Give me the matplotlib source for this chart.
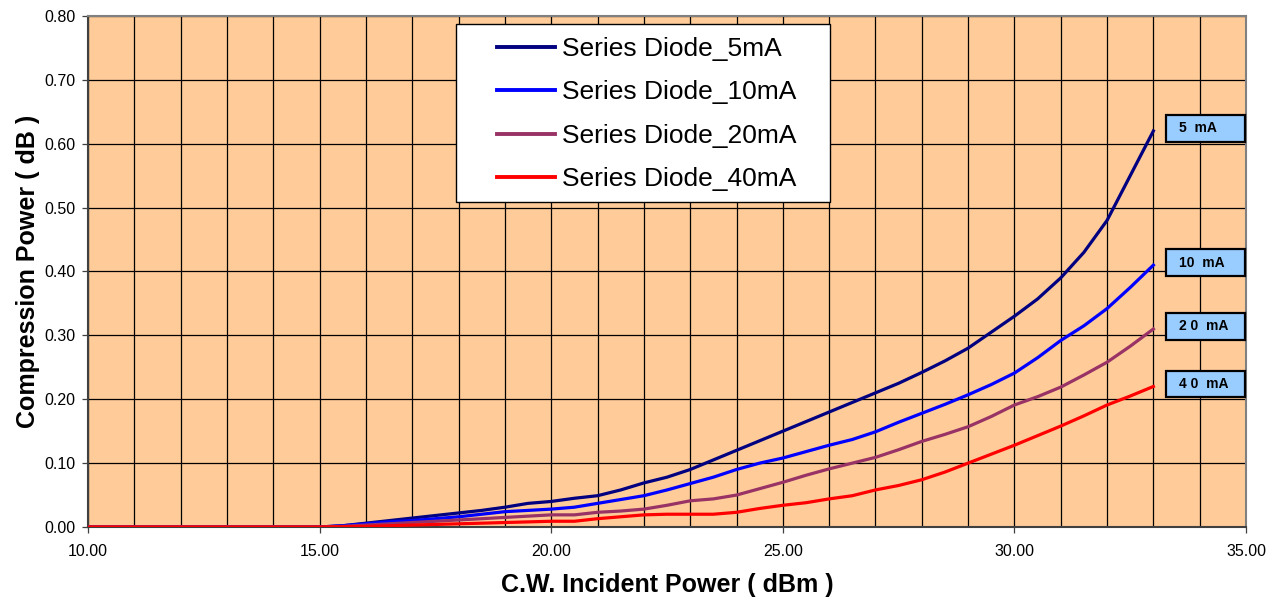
import matplotlib
matplotlib.use('Agg')
import matplotlib.pyplot as plt
from matplotlib.ticker import MultipleLocator, FormatStrFormatter
from matplotlib.patches import Rectangle

plt.rcParams['font.family'] = ['Liberation Sans', 'DejaVu Sans']

# incident power steps (dBm)
power = [10.0, 10.5, 11.0, 11.5, 12.0, 12.5, 13.0, 13.5, 14.0, 14.5, 15.0,
         15.5, 16.0, 16.5, 17.0, 17.5, 18.0, 18.5, 19.0, 19.5, 20.0, 20.5,
         21.0, 21.5, 22.0, 22.5, 23.0, 23.5, 24.0, 24.5, 25.0, 25.5, 26.0,
         26.5, 27.0, 27.5, 28.0, 28.5, 29.0, 29.5, 30.0, 30.5, 31.0, 31.5,
         32.0, 32.5, 33.0]

zeros = [0.0] * 11

comp_5ma = zeros + [0.002, 0.006, 0.010, 0.014, 0.018, 0.022, 0.026, 0.031, 0.037, 0.040,
                    0.045, 0.049, 0.058, 0.069, 0.078, 0.090, 0.105, 0.120, 0.135, 0.150,
                    0.165, 0.180, 0.195, 0.210, 0.225, 0.242, 0.260, 0.280, 0.305, 0.330,
                    0.357, 0.390, 0.430, 0.480, 0.550, 0.620]
comp_10ma = zeros + [0.002, 0.005, 0.008, 0.010, 0.013, 0.016, 0.020, 0.024, 0.026, 0.028,
                     0.031, 0.037, 0.043, 0.049, 0.058, 0.068, 0.078, 0.090, 0.100, 0.108,
                     0.118, 0.128, 0.137, 0.149, 0.164, 0.178, 0.192, 0.207, 0.223, 0.241,
                     0.265, 0.292, 0.315, 0.342, 0.375, 0.410]
comp_20ma = zeros + [0.001, 0.003, 0.005, 0.007, 0.009, 0.011, 0.013, 0.015, 0.017, 0.019,
                     0.019, 0.023, 0.025, 0.028, 0.034, 0.041, 0.044, 0.050, 0.060, 0.070,
                     0.081, 0.091, 0.100, 0.109, 0.121, 0.134, 0.145, 0.157, 0.173, 0.191,
                     0.204, 0.219, 0.238, 0.258, 0.283, 0.310]
comp_40ma = zeros + [0.0005, 0.001, 0.002, 0.003, 0.004, 0.005, 0.006, 0.007, 0.008, 0.009,
                     0.009, 0.013, 0.016, 0.019, 0.020, 0.020, 0.020, 0.023, 0.029, 0.034,
                     0.038, 0.044, 0.049, 0.058, 0.065, 0.074, 0.086, 0.100, 0.114, 0.128,
                     0.143, 0.158, 0.174, 0.191, 0.205, 0.220]

series = [comp_5ma, comp_10ma, comp_20ma, comp_40ma]
names = ["Series Diode_5mA", "Series Diode_10mA", "Series Diode_20mA", "Series Diode_40mA"]
tags = ["5  mA", "10  mA", "2 0  mA", "4 0  mA"]
colors = ["#000080", "#0000FF", "#993366", "#FF0000"]

fig = plt.figure(figsize=(12.76, 5.99), dpi=100)
ax = fig.add_axes([0.069, 0.1202, 0.9075, 0.8531])
ax.set_facecolor("#FFCC99")

for y, lab, c in zip(series, names, colors):
    ax.plot(power, y, color=c, lw=2.3, label=lab, zorder=3)

ax.set_xlim(10, 35)
ax.set_ylim(0, 0.8)
ax.xaxis.set_major_locator(MultipleLocator(5))
ax.xaxis.set_minor_locator(MultipleLocator(1))
ax.yaxis.set_major_locator(MultipleLocator(0.1))
ax.xaxis.set_major_formatter(FormatStrFormatter("%.2f"))
ax.yaxis.set_major_formatter(FormatStrFormatter("%.2f"))
ax.grid(which="both", color="black", lw=0.9, zorder=1)
ax.set_axisbelow(True)
ax.tick_params(which="major", length=4, width=0.9, color="#404040", labelsize=11.5)
ax.tick_params(which="minor", length=0)
ax.tick_params(axis="x", pad=8)
ax.tick_params(axis="y", pad=5)
for s in ax.spines.values():
    s.set_color("#808080")
    s.set_linewidth(1.5)
ax.spines["left"].set_color("#404040")
ax.spines["bottom"].set_color("#404040")

ax.set_xlabel("C.W. Incident Power ( dBm )", fontsize=18, fontweight="bold", labelpad=10)
ax.set_ylabel("Compression Power ( dB )", fontsize=18, fontweight="bold", labelpad=3)

# end-of-line labels
for y, t in zip(series, tags):
    yc = y[-1] + 0.004
    ax.add_patch(Rectangle((33.27, yc - 0.021), 1.7, 0.042, facecolor="#99CCFF",
                           edgecolor="black", lw=1.6, zorder=5, clip_on=False))
    ax.text(33.56, yc, t, fontsize=10, fontweight="bold", va="center", ha="left", zorder=6)

# legend box
ax.add_patch(Rectangle((0.3178, 0.636), 0.323, 0.348, transform=ax.transAxes,
                       facecolor="white", edgecolor="black", lw=1.0, zorder=6))
leg = ax.legend(loc="center left", bbox_to_anchor=(0.3532, 0.808), fontsize=19,
                frameon=False, handlelength=2.2, handletextpad=0.27,
                borderpad=0, labelspacing=0.73, borderaxespad=0)
leg.set_zorder(7)
for h in leg.get_lines():
    h.set_linewidth(2.8)

fig.savefig("out.png", dpi=100)
